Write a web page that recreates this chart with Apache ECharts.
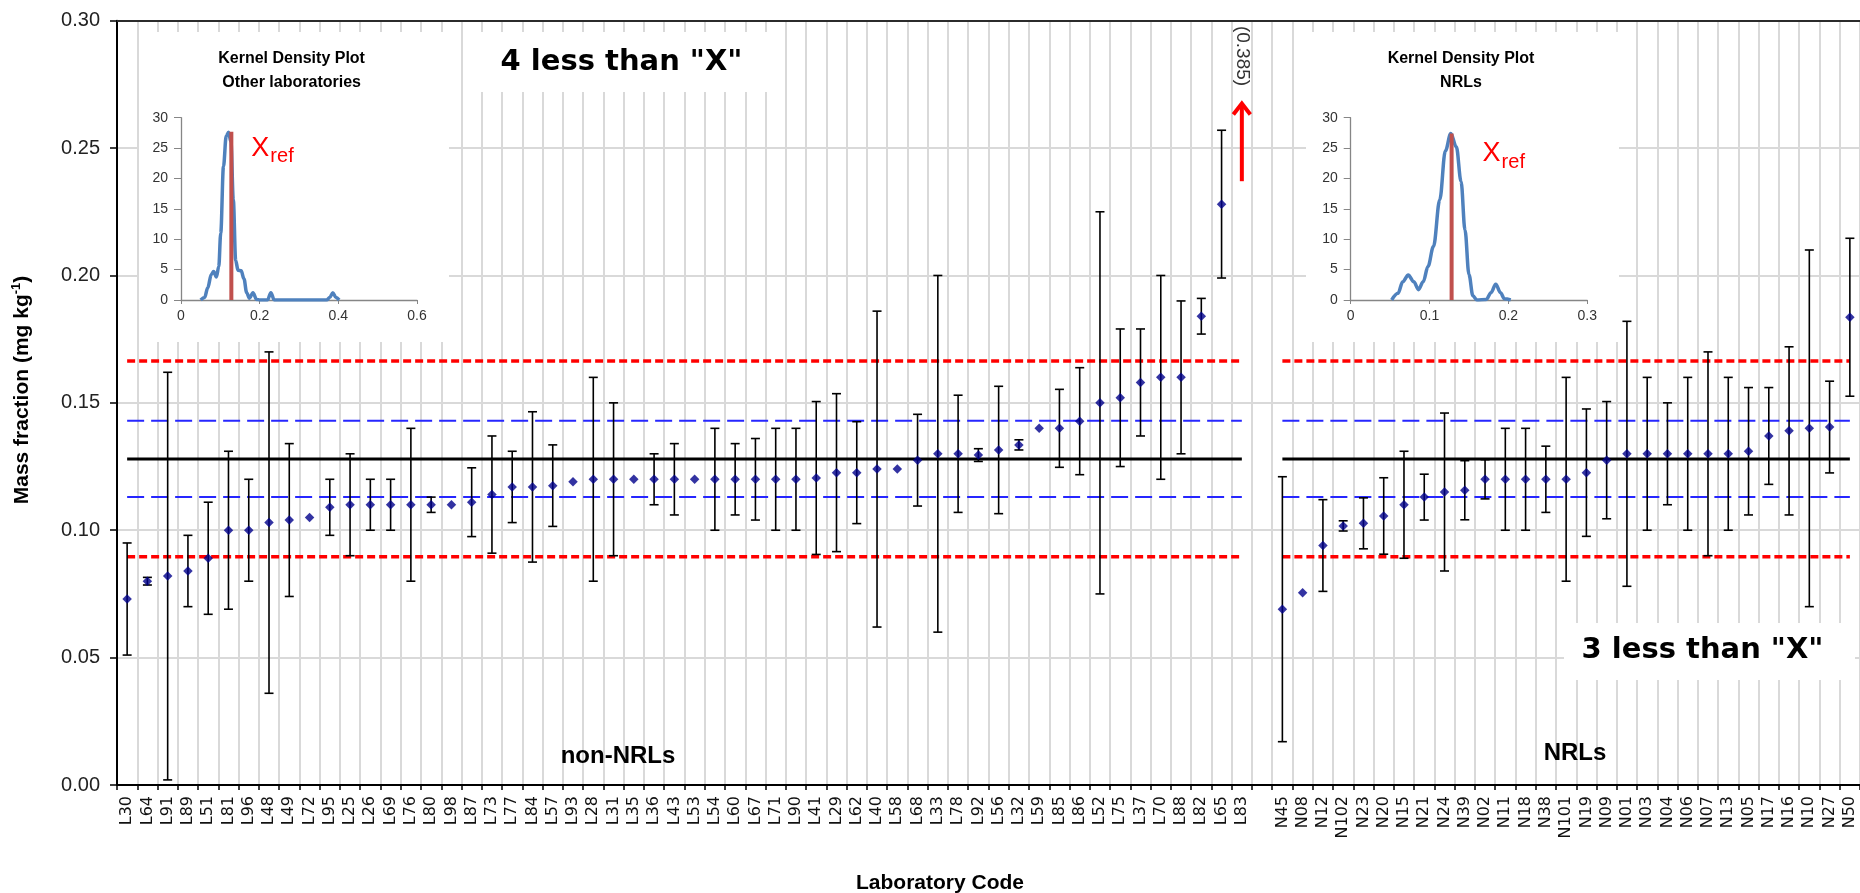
<!DOCTYPE html>
<html>
<head>
<meta charset="utf-8">
<title>Mass fraction by laboratory</title>
<script src="https://cdn.jsdelivr.net/npm/echarts@6/dist/echarts.min.js"></script>
<style>
  html, body { margin: 0; padding: 0; background: #ffffff; }
  #chart { width: 1860px; height: 893px; }
</style>
</head>
<body>
<div id="chart"></div>
<script>
// ---- Laboratory results (mass fraction, mg/kg) and expanded uncertainties ----
const labsOther = ['L30','L64','L91','L89','L51','L81','L96','L48','L49','L72','L95','L25','L26','L69','L76','L80','L98','L87','L73','L77','L84','L57','L93','L28','L31','L35','L36','L43','L53','L54','L60','L67','L71','L90','L41','L29','L62','L40','L58','L68','L33','L78','L92','L56','L32','L59','L85','L86','L52','L75','L37','L70','L88','L82','L65','L83'];
const valuesOther = [0.073,0.080,0.082,0.084,0.089,0.100,0.100,0.103,0.104,0.105,0.109,0.110,0.110,0.110,0.110,0.110,0.110,0.111,0.114,0.117,0.117,0.1175,0.119,0.120,0.120,0.120,0.120,0.120,0.120,0.120,0.120,0.120,0.120,0.120,0.1205,0.1226,0.1226,0.124,0.124,0.1275,0.130,0.130,0.1295,0.1315,0.1335,0.140,0.140,0.1428,0.150,0.152,0.158,0.160,0.160,0.184,0.228,0.385];
const uncOther = [0.022,0.0015,0.080,0.014,0.022,0.031,0.020,0.067,0.030,null,0.011,0.020,0.010,0.010,0.030,0.003,null,0.0135,0.023,0.014,0.0295,0.016,null,0.040,0.030,null,0.010,0.014,null,0.020,0.014,0.016,0.020,0.020,0.030,0.031,0.020,0.062,null,0.018,0.070,0.023,0.0025,0.025,0.002,null,0.0153,0.021,0.075,0.027,0.021,0.040,0.030,0.007,0.029,null];

const labsNrl = ['N45','N08','N12','N102','N23','N20','N15','N21','N24','N39','N02','N11','N18','N38','N101','N19','N09','N01','N03','N04','N06','N07','N13','N05','N17','N16','N10','N27','N50'];
const valuesNrl = [0.069,0.0755,0.094,0.1017,0.1027,0.1056,0.110,0.113,0.115,0.1157,0.120,0.120,0.120,0.120,0.120,0.1226,0.1275,0.130,0.130,0.130,0.130,0.130,0.130,0.131,0.137,0.139,0.140,0.1405,0.1836];
const uncNrl = [0.052,null,0.018,0.002,0.010,0.015,0.021,0.009,0.031,0.0116,0.0077,0.020,0.020,0.013,0.040,0.025,0.023,0.052,0.030,0.020,0.030,0.040,0.030,0.025,0.019,0.033,0.070,0.018,0.031];

// Assigned value and acceptance limits
const X_REF = 0.128;
const limitsU = [0.113, 0.143];       // Xref +/- u
const limitsSigma = [0.0896, 0.1664]; // Xref +/- 2 sigma

// Value axis ticks
const yMin = 0, yMax = 0.30, yStep = 0.05;

// Kernel density curves [mass fraction, density]
const kdeOther = [[0.050,0],[0.060,0.4],[0.068,2.0],[0.077,4.2],[0.083,4.7],[0.090,3.8],[0.096,5.5],[0.101,11],[0.108,22],[0.115,27],[0.121,27.6],[0.127,26],[0.133,16.5],[0.139,6.5],[0.145,4.9],[0.153,4.8],[0.160,3.5],[0.167,1.2],[0.174,0.3],[0.183,1.2],[0.192,0.1],[0.200,0],[0.220,0],[0.2285,1.2],[0.237,0],[0.370,0],[0.378,0.4],[0.386,1.2],[0.394,0.4],[0.402,0]];
const kdeNrl = [[0.052,0],[0.060,1.1],[0.066,3.0],[0.073,4.1],[0.080,3.0],[0.086,1.7],[0.092,3.0],[0.098,5.5],[0.105,8.8],[0.113,16.5],[0.120,24.5],[0.127,27.4],[0.134,25.2],[0.140,19.5],[0.145,11.5],[0.150,4.2],[0.155,0.7],[0.160,0],[0.172,0.1],[0.178,1.2],[0.184,2.6],[0.190,1.2],[0.195,0.2],[0.203,0]];
const kdePeakOther = 27.7;
const kdePeakNrl = 27.4;

const lessThanOther = 4;
const lessThanNrl = 3;

// ---- Build category axis with a blank slot between the two groups ----
const categories = labsOther.concat([''], labsNrl);
const values = valuesOther.concat([null], valuesNrl);
const unc = uncOther.concat([null], uncNrl);
const refLine = v => labsOther.map(() => v).concat([null], labsNrl.map(() => v));

const errData = [];
categories.forEach((c, i) => {
  if (values[i] != null && unc[i] != null) errData.push([i, values[i] - unc[i], values[i] + unc[i]]);
});

const SANS = "'Liberation Sans', Arial, sans-serif";
const WIDE = "'DejaVu Sans', Verdana, sans-serif";

const chart = echarts.init(document.getElementById('chart'), null, { renderer: 'canvas' });

const insetAxisLine = { lineStyle: { color: '#868686', width: 1.3 } };

const option = {
  animation: false,
  backgroundColor: '#ffffff',
  textStyle: { fontFamily: SANS },
  grid: [
    { left: 117, top: 20.7, width: 1746.5, height: 764.3, containLabel: false },
    { left: 181, top: 117.7, width: 236, height: 182.3 },
    { left: 1350.7, top: 117.7, width: 236.5, height: 182.3 }
  ],
  xAxis: [
    {
      type: 'category', gridIndex: 0, data: categories, boundaryGap: true,
      axisLine: { onZero: false, lineStyle: { color: '#000', width: 2 } },
      axisTick: { show: true, interval: 0, length: 5, lineStyle: { color: '#000', width: 1.5 } },
      axisLabel: { interval: 0, rotate: 90, fontSize: 16, margin: 11, color: '#111', fontFamily: WIDE },
      splitLine: { show: true, interval: 0, lineStyle: { color: '#d9d9d9', width: 2 } }
    },
    {
      type: 'category', gridIndex: 0, data: categories, position: 'top',
      axisLine: { onZero: false, lineStyle: { color: '#2b2b2b', width: 2 } },
      axisTick: { show: false }, axisLabel: { show: false }, splitLine: { show: false }
    },
    {
      type: 'value', gridIndex: 1, min: 0, max: 0.6, interval: 0.2, z: 5,
      axisLine: insetAxisLine,
      axisTick: { show: true, length: 4, lineStyle: { color: '#868686' } },
      axisLabel: { fontSize: 14, color: '#333', margin: 9 },
      splitLine: { show: false }
    },
    {
      type: 'value', gridIndex: 2, min: 0, max: 0.3, interval: 0.1, z: 5,
      axisLine: insetAxisLine,
      axisTick: { show: true, length: 4, lineStyle: { color: '#868686' } },
      axisLabel: { fontSize: 14, color: '#333', margin: 9 },
      splitLine: { show: false }
    }
  ],
  yAxis: [
    {
      type: 'value', gridIndex: 0, min: yMin, max: yMax, interval: yStep,
      axisLine: { show: true, lineStyle: { color: '#000', width: 2 } },
      axisTick: { show: true, length: 7, lineStyle: { color: '#000', width: 1.5 } },
      axisLabel: { fontSize: 20, margin: 17, color: '#222', formatter: v => v.toFixed(2) },
      splitLine: { show: true, lineStyle: { color: '#d9d9d9', width: 2 } }
    },
    {
      type: 'value', gridIndex: 1, min: 0, max: 30, interval: 5, z: 5,
      axisLine: { show: true, lineStyle: { color: '#868686', width: 1.3 } },
      axisTick: { show: true, length: 7, lineStyle: { color: '#868686' } },
      axisLabel: { fontSize: 14, color: '#333', margin: 13 },
      splitLine: { show: false }
    },
    {
      type: 'value', gridIndex: 2, min: 0, max: 30, interval: 5, z: 5,
      axisLine: { show: true, lineStyle: { color: '#868686', width: 1.3 } },
      axisTick: { show: true, length: 7, lineStyle: { color: '#868686' } },
      axisLabel: { fontSize: 14, color: '#333', margin: 13 },
      splitLine: { show: false }
    }
  ],
  series: [
    // acceptance limits
    { type: 'line', name: 'lower 2σ', data: refLine(limitsSigma[0]), xAxisIndex: 0, yAxisIndex: 0, symbol: 'none', z: 2,
      lineStyle: { color: '#ff0000', width: 3.5, type: [8, 4] } },
    { type: 'line', name: 'upper 2σ', data: refLine(limitsSigma[1]), xAxisIndex: 0, yAxisIndex: 0, symbol: 'none', z: 2,
      lineStyle: { color: '#ff0000', width: 3.5, type: [8, 4] } },
    { type: 'line', name: 'lower u', data: refLine(limitsU[0]), xAxisIndex: 0, yAxisIndex: 0, symbol: 'none', z: 2,
      lineStyle: { color: '#2626ff', width: 2, type: [17, 7] } },
    { type: 'line', name: 'upper u', data: refLine(limitsU[1]), xAxisIndex: 0, yAxisIndex: 0, symbol: 'none', z: 2,
      lineStyle: { color: '#2626ff', width: 2, type: [17, 7] } },
    { type: 'line', name: 'Xref', data: refLine(X_REF), xAxisIndex: 0, yAxisIndex: 0, symbol: 'none', z: 2,
      lineStyle: { color: '#000', width: 3 } },
    // uncertainty bars
    {
      type: 'custom', name: 'uncertainty', xAxisIndex: 0, yAxisIndex: 0, data: errData, z: 3,
      encode: { x: 0, y: [1, 2] },
      renderItem: (params, api) => {
        const lo = api.coord([api.value(0), api.value(1)]);
        const hi = api.coord([api.value(0), api.value(2)]);
        const hw = 4.5;
        const style = { stroke: '#000', lineWidth: 1.6 };
        return {
          type: 'group',
          children: [
            { type: 'line', shape: { x1: lo[0], y1: lo[1], x2: hi[0], y2: hi[1] }, style },
            { type: 'line', shape: { x1: lo[0] - hw, y1: lo[1], x2: lo[0] + hw, y2: lo[1] }, style },
            { type: 'line', shape: { x1: hi[0] - hw, y1: hi[1], x2: hi[0] + hw, y2: hi[1] }, style }
          ]
        };
      }
    },
    // laboratory results
    {
      type: 'scatter', name: 'result', xAxisIndex: 0, yAxisIndex: 0, data: values, clip: true, z: 4,
      symbol: 'diamond', symbolSize: 9.5, itemStyle: { color: '#00008b' }
    },
    // kernel density insets
    { type: 'line', xAxisIndex: 2, yAxisIndex: 1, data: kdeOther, symbol: 'none', smooth: 0.35, smoothMonotone: 'x', z: 6,
      lineStyle: { color: '#4f81bd', width: 3.5 } },
    { type: 'line', xAxisIndex: 2, yAxisIndex: 1, data: [[X_REF, 0], [X_REF, kdePeakOther]], symbol: 'none', z: 7,
      lineStyle: { color: '#c0504d', width: 4 } },
    { type: 'line', xAxisIndex: 3, yAxisIndex: 2, data: kdeNrl, symbol: 'none', smooth: 0.35, smoothMonotone: 'x', z: 6,
      lineStyle: { color: '#4f81bd', width: 3.5 } },
    { type: 'line', xAxisIndex: 3, yAxisIndex: 2, data: [[X_REF, 0], [X_REF, kdePeakNrl]], symbol: 'none', z: 7,
      lineStyle: { color: '#c0504d', width: 4 } }
  ]
};

chart.setOption(option);

// ---- Annotations: panels, captions and the off-scale marker ----
function textEl(x, y, text, font, extra) {
  return {
    type: 'text', x, y, z: 8,
    style: Object.assign({ text, font, fill: '#000', align: 'center', verticalAlign: 'middle' }, extra || {})
  };
}

const offIdx = labsOther.length - 1;
const offLab = labsOther[offIdx];
const offVal = valuesOther[offIdx];
const offBase = chart.convertToPixel({ xAxisIndex: 0, yAxisIndex: 0 }, [offLab, 0.237]);
const offTip = chart.convertToPixel({ xAxisIndex: 0, yAxisIndex: 0 }, [offLab, 0.2675]);
const ax = offBase[0];

const xrefOther = chart.convertToPixel({ xAxisIndex: 2, yAxisIndex: 1 }, [X_REF, kdePeakOther]);
const xrefNrl = chart.convertToPixel({ xAxisIndex: 3, yAxisIndex: 2 }, [X_REF, kdePeakNrl]);
const redText = { fill: '#ff0000', align: 'left', verticalAlign: 'bottom' };

const graphics = [
  // white panels behind the insets and captions
  { type: 'rect', z: 1, shape: { x: 139, y: 32, width: 310, height: 310 }, style: { fill: '#fff' } },
  { type: 'rect', z: 1, shape: { x: 1306, y: 32, width: 313, height: 310 }, style: { fill: '#fff' } },
  { type: 'rect', z: 1, shape: { x: 470, y: 32, width: 306, height: 60 }, style: { fill: '#fff' } },
  { type: 'rect', z: 1, shape: { x: 1564, y: 623, width: 291, height: 57 }, style: { fill: '#fff' } },

  textEl(291.6, 71, 'Kernel Density Plot\nOther laboratories', "bold 16px 'Liberation Sans', Arial, sans-serif", { lineHeight: 24 }),
  textEl(1461, 71, 'Kernel Density Plot\nNRLs', "bold 16px 'Liberation Sans', Arial, sans-serif", { lineHeight: 24 }),

  textEl(xrefOther[0] + 20, xrefOther[1] + 30, 'X', "27px 'Liberation Sans', Arial, sans-serif", redText),
  textEl(xrefOther[0] + 39, xrefOther[1] + 35, 'ref', "20px 'Liberation Sans', Arial, sans-serif", redText),
  textEl(xrefNrl[0] + 31, xrefNrl[1] + 34, 'X', "27px 'Liberation Sans', Arial, sans-serif", redText),
  textEl(xrefNrl[0] + 50, xrefNrl[1] + 39, 'ref', "20px 'Liberation Sans', Arial, sans-serif", redText),

  textEl(621.5, 62, lessThanOther + ' less than "X"', "bold 29px 'DejaVu Sans', Verdana, sans-serif"),
  textEl(1702.5, 650, lessThanNrl + ' less than "X"', "bold 29px 'DejaVu Sans', Verdana, sans-serif"),

  textEl(618, 756, 'non-NRLs', "bold 24px 'Liberation Sans', Arial, sans-serif"),
  textEl(1575, 753, 'NRLs', "bold 24px 'Liberation Sans', Arial, sans-serif"),

  textEl(940, 883, 'Laboratory Code', "bold 21px 'Liberation Sans', Arial, sans-serif"),
  {
    type: 'text', x: 22, y: 390, rotation: Math.PI / 2, z: 8,
    style: {
      text: '{t|Mass fraction (mg kg}{s|-1}{t|)}',
      align: 'center', verticalAlign: 'middle',
      rich: {
        t: { font: "bold 21px 'Liberation Sans', Arial, sans-serif", fill: '#000', lineHeight: 24, verticalAlign: 'middle' },
        s: { font: "bold 13px 'Liberation Sans', Arial, sans-serif", fill: '#000', lineHeight: 24, verticalAlign: 'top' }
      }
    }
  },

  // off-scale result indicator
  { type: 'line', z: 8, shape: { x1: ax, y1: offBase[1], x2: ax, y2: offTip[1] + 1 }, style: { stroke: '#ff0000', lineWidth: 4 } },
  { type: 'polyline', z: 8, shape: { points: [[ax - 8.5, offTip[1] + 11], [ax, offTip[1]], [ax + 8.5, offTip[1] + 11]] },
    style: { stroke: '#ff0000', lineWidth: 4, fill: null, lineJoin: 'miter' } },
  {
    type: 'text', x: ax, y: 56, rotation: -Math.PI / 2, z: 8,
    style: { text: '(' + offVal.toFixed(3) + ')', font: "19px 'Liberation Sans', Arial, sans-serif", fill: '#333', align: 'center', verticalAlign: 'middle' }
  }
];

chart.setOption({ graphic: graphics });
</script>
</body>
</html>
